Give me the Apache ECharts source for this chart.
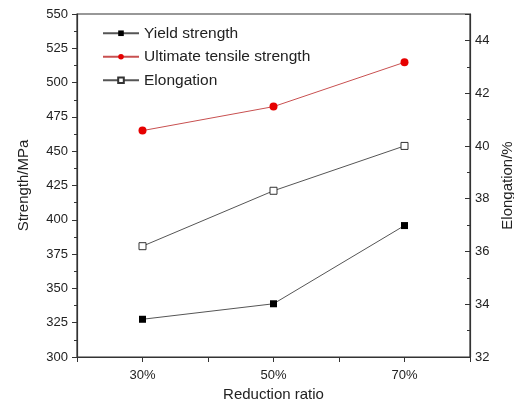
<!DOCTYPE html>
<html>
<head>
<meta charset="utf-8">
<script src="https://cdn.jsdelivr.net/npm/echarts@6/dist/echarts.min.js"></script>
<style>
  html, body { margin: 0; padding: 0; background: #fff; }
  #main { width: 514px; height: 404px; }
</style>
</head>
<body>
<div id="main"></div>
<script>
var categories = ['30%', '50%', '70%'];
var yieldStrength = [327.5, 338.8, 395.8];
var tensileStrength = [465, 482.5, 514.8];
var elongation = [36.2, 38.3, 40.0];

var font = "'Liberation Sans', Arial, sans-serif";
var axisColor = '#333';

var myChart = echarts.init(document.getElementById('main'));
myChart.setOption({
  animation: false,
  textStyle: { fontFamily: font, color: '#222' },
  grid: {
    left: 77, right: 44, top: 14, bottom: 47,
    outerBoundsMode: 'none',
    show: true, borderColor: axisColor, borderWidth: 1.2
  },
  legend: {
    orient: 'vertical',
    left: 97, top: 20,
    itemWidth: 36, itemHeight: 7,
    itemGap: 7,
    textStyle: { fontFamily: font, fontSize: 15.5, color: '#222', lineHeight: 16.5 },
    data: ['Yield strength', 'Ultimate tensile strength', 'Elongation']
  },
  xAxis: [
    {
      type: 'category',
      data: categories,
      boundaryGap: true,
      name: 'Reduction ratio',
      nameLocation: 'middle',
      nameGap: 28,
      nameTextStyle: { fontFamily: font, fontSize: 15, color: '#222' },
      axisLine: { lineStyle: { color: axisColor, width: 1.2 } },
      axisTick: { show: true, length: 5, alignWithLabel: false, lineStyle: { color: axisColor } },
      axisLabel: { fontFamily: font, fontSize: 13, color: '#222', margin: 12 },
      splitLine: { show: false }
    },
    {
      type: 'category',
      data: categories,
      position: 'bottom',
      boundaryGap: true,
      axisLine: { show: false },
      axisTick: { show: true, length: 5, alignWithLabel: true, lineStyle: { color: axisColor } },
      axisLabel: { show: false },
      splitLine: { show: false }
    }
  ],
  yAxis: [
    {
      type: 'value',
      min: 300, max: 550, interval: 25,
      name: 'Strength/MPa',
      nameLocation: 'middle',
      nameRotate: 90,
      nameGap: 46,
      nameTextStyle: { fontFamily: font, fontSize: 15, color: '#222' },
      axisLine: { show: true, lineStyle: { color: axisColor, width: 1.2 } },
      axisTick: { show: true, length: 5, lineStyle: { color: axisColor } },
      minorTick: { show: true, splitNumber: 2, length: 3, lineStyle: { color: axisColor } },
      axisLabel: { fontFamily: font, fontSize: 13, color: '#222', margin: 9 },
      splitLine: { show: false }
    },
    {
      type: 'value',
      position: 'right',
      min: 32, max: 45, interval: 2,
      name: 'Elongation/%',
      nameLocation: 'middle',
      nameRotate: 90,
      nameGap: 30,
      nameTextStyle: { fontFamily: font, fontSize: 15, color: '#222' },
      axisLine: { show: true, lineStyle: { color: axisColor, width: 1.2 } },
      axisTick: { show: true, inside: true, length: 5, lineStyle: { color: axisColor } },
      minorTick: { show: true, splitNumber: 2, length: 3, lineStyle: { color: axisColor } },
      axisLabel: { fontFamily: font, fontSize: 13, color: '#222', margin: 5, showMaxLabel: false },
      splitLine: { show: false }
    }
  ],
  series: [
    {
      name: 'Yield strength',
      type: 'line',
      yAxisIndex: 0,
      data: yieldStrength,
      symbol: 'rect',
      symbolSize: 7,
      itemStyle: { color: '#000' },
      lineStyle: { color: '#555', width: 1 }
    },
    {
      name: 'Ultimate tensile strength',
      type: 'line',
      yAxisIndex: 0,
      data: tensileStrength,
      symbol: 'circle',
      symbolSize: 8,
      itemStyle: { color: '#e60000' },
      lineStyle: { color: '#c85050', width: 1 }
    },
    {
      name: 'Elongation',
      type: 'line',
      yAxisIndex: 1,
      data: elongation,
      symbol: 'rect',
      symbolSize: 7,
      itemStyle: { color: '#fff', borderColor: '#333', borderWidth: 1 },
      lineStyle: { color: '#555', width: 1 }
    }
  ]
});
</script>
</body>
</html>
